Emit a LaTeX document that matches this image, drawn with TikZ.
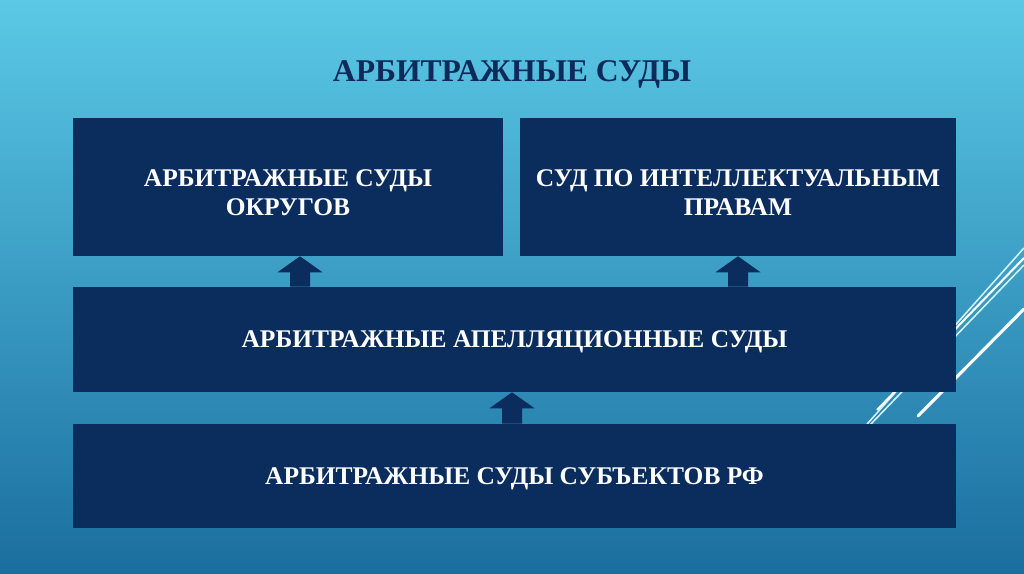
\documentclass[tikz,border=0pt]{standalone}
\usepackage{fontspec}
\setmainfont{Liberation Serif}
\usepackage{tikz}
\usetikzlibrary{calc, positioning}
\definecolor{bgtop}{HTML}{5BC9E6}
\definecolor{bgmid}{HTML}{48B2DA}
\definecolor{bgbot}{HTML}{1A6E9F}
\definecolor{navybox}{HTML}{0B2D5D}
\definecolor{navytext}{HTML}{0E2A5A}
\definecolor{slice}{HTML}{D2F3FB}

\begin{document}
\begin{tikzpicture}[x=1cm, y=1cm,
    court/.style={fill=navybox, text=white, align=center,
        font=\fontsize{18.1}{20.6}\selectfont\bfseries,
        inner sep=0pt, text depth=0pt, minimum height=2.6cm},
    toprow/.style={court, minimum height=3.45cm, text height=41pt}]
  % Background
  \useasboundingbox (0,0) rectangle (25.6,14.35);
  \clip (0,0) rectangle (25.6,14.35);
  \shade[top color=bgtop, middle color=bgmid, bottom color=bgbot]
    (0,0) rectangle (25.6,14.35);

  % Slice lines on the right
  \draw[slice, line width=1.1pt] (21.545,3.6) -- (25.6,8.15);
  \draw[white, line width=1.5pt] (21.925,4.1) -- (25.6,7.9);
  \draw[slice, line width=1.1pt] (21.63,3.6) -- (25.6,7.725);
  \draw[white, line width=2.2pt, line cap=round] (22.95,3.95) -- (25.6,6.625);

  % Title
  \node[text=navytext, font=\fontsize{22.5}{26}\selectfont\bfseries]
    (title) at (12.8,12.5) {АРБИТРАЖНЫЕ СУДЫ};

  % Court boxes
  \node[toprow, minimum width=10.75cm]
    (okrug) at (7.2,9.675) {АРБИТРАЖНЫЕ СУДЫ\\ОКРУГОВ};
  \node[toprow, minimum width=10.9cm]
    (ip) at (18.45,9.675) {СУД ПО ИНТЕЛЛЕКТУАЛЬНЫМ\\ПРАВАМ};
  \node[court, minimum width=22.075cm, minimum height=2.625cm]
    (appeal) at (12.8625,5.8625) {АРБИТРАЖНЫЕ АПЕЛЛЯЦИОННЫЕ СУДЫ};
  \node[court, minimum width=22.075cm]
    (subj) at (12.8625,2.45) {АРБИТРАЖНЫЕ СУДЫ СУБЪЕКТОВ РФ};

  % Block arrows between levels
  \coordinate (a1s) at (7.5,0 |- appeal.north);
  \coordinate (a1t) at (7.5,0 |- okrug.south);
  \coordinate (a2s) at (18.45,0 |- appeal.north);
  \coordinate (a2t) at (18.45,0 |- ip.south);
  \coordinate (a3s) at (12.8,0 |- subj.north);
  \coordinate (a3t) at (12.8,0 |- appeal.south);
  \foreach \s/\t in {a1s/a1t, a2s/a2t, a3s/a3t}
    \fill[navybox] ($(\s)+(-0.25,0)$) |- ($(\t)+(-0.5625,-0.4)$)
      -- (\t) -- ++(0.5625,-0.4) -| ($(\s)+(0.25,0)$) -- cycle;
\end{tikzpicture}
\end{document}
